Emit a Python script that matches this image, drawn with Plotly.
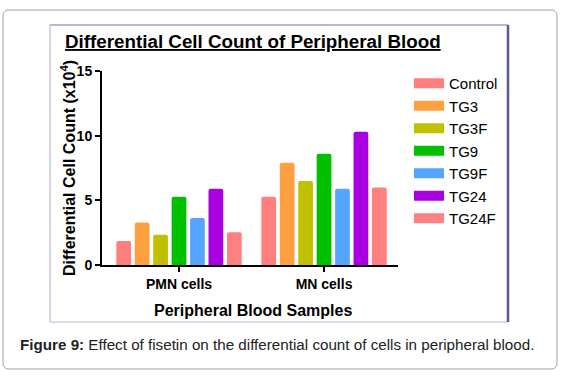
import plotly.graph_objects as go

W, H = 563, 376

categories = ["PMN cells", "MN cells"]
groups = ["Control", "TG3", "TG3F", "TG9", "TG9F", "TG24", "TG24F"]
control = [1.85, 5.28]
tg3 = [3.28, 7.9]
tg3f = [2.33, 6.49]
tg9 = [5.28, 8.6]
tg9f = [3.64, 5.9]
tg24 = [5.9, 10.3]
tg24f = [2.54, 6.0]
series = [control, tg3, tg3f, tg9, tg9f, tg24, tg24f]
colors = ["#FF7F7F", "#FFA040", "#C0C000", "#00C000", "#55A5FF", "#A800E0", "#FF8080"]
y_ticks = [0, 5, 10, 15]

FONT = "Liberation Sans, Arial, sans-serif"

def px(x):
    return x / W

def py(y):
    return 1 - y / H

fig = go.Figure()
for name, vals, col in zip(groups, series, colors):
    fig.add_trace(go.Bar(x=categories, y=vals, name=name, marker_color=col,
                         marker_line_width=0, showlegend=False))
for name, col in zip(groups, colors):
    fig.add_trace(go.Scatter(x=[None], y=[None], mode="lines", name=name,
                             line=dict(color=col, width=12), legendgroup=name))

fig.update_layout(
    width=W, height=H,
    margin=dict(l=0, r=0, t=0, b=0, autoexpand=False),
    paper_bgcolor="white", plot_bgcolor="white",
    barmode="group", bargap=0.11, bargroupgap=0.2, barcornerradius=2,
    font=dict(family=FONT, color="black"),
    xaxis=dict(domain=[px(102), px(398)], range=[-0.531, 1.51], automargin=False,
               showline=True, linecolor="black", linewidth=2,
               ticks="outside", ticklen=5, tickwidth=2, tickcolor="black",
               tickfont=dict(size=14, family=FONT, weight="bold"),
               showgrid=False, zeroline=False, anchor="y"),
    yaxis=dict(domain=[py(265), py(71)], range=[0, 15], automargin=False,
               tickvals=y_ticks, showline=True, linecolor="black", linewidth=2,
               ticks="outside", ticklen=5, tickwidth=2, tickcolor="black",
               tickfont=dict(size=14, family=FONT, weight="bold"),
               showgrid=False, zeroline=False, anchor="x"),
    legend=dict(x=px(409), y=py(67), xanchor="left", yanchor="top",
                font=dict(size=15, family=FONT), tracegroupgap=0,
                traceorder="grouped", bgcolor="rgba(0,0,0,0)", itemwidth=30),
    shapes=[
        dict(type="path", xref="paper", yref="paper",
             path=f"M {px(9)},{py(10)} L {px(551)},{py(10)} Q {px(557)},{py(10)} {px(557)},{py(16)} "
                  f"L {px(557)},{py(363)} Q {px(557)},{py(369)} {px(551)},{py(369)} "
                  f"L {px(9)},{py(369)} Q {px(3)},{py(369)} {px(3)},{py(363)} "
                  f"L {px(3)},{py(16)} Q {px(3)},{py(10)} {px(9)},{py(10)} Z",
             line=dict(color="#A0A0A0", width=1)),
        dict(type="line", xref="paper", yref="paper", x0=px(50), x1=px(508), y0=py(25), y1=py(25),
             line=dict(color="#B8B4D8", width=2)),
        dict(type="line", xref="paper", yref="paper", x0=px(50), x1=px(508), y0=py(322), y1=py(322),
             line=dict(color="#B8B4D8", width=1)),
        dict(type="line", xref="paper", yref="paper", x0=px(50), x1=px(50), y0=py(25), y1=py(322),
             line=dict(color="#C8C4E0", width=1.5)),
        dict(type="line", xref="paper", yref="paper", x0=px(508), x1=px(508), y0=py(25), y1=py(322),
             line=dict(color="#5A5A9A", width=2.5)),
    ],
    annotations=[
        dict(text="<u><b>Differential Cell Count of Peripheral Blood</b></u>", xref="paper", yref="paper",
             x=px(253), y=py(42), xanchor="center", yanchor="middle", showarrow=False,
             font=dict(size=18.8, family=FONT, color="black")),
        dict(text="<b>Differential Cell Count (x10<sup>4</sup>)</b>", xref="paper", yref="paper",
             x=px(68), y=py(168), xanchor="center", yanchor="middle", textangle=-90, showarrow=False,
             font=dict(size=16, family=FONT, color="black")),
        dict(text="<b>Peripheral Blood Samples</b>", xref="paper", yref="paper",
             x=px(253), y=py(310), xanchor="center", yanchor="middle", showarrow=False,
             font=dict(size=16, family=FONT, color="black")),
        dict(text="<b>Figure 9:</b> Effect of fisetin on the differential count of cells in peripheral blood.",
             xref="paper", yref="paper", x=px(18), y=py(344), xanchor="left", yanchor="middle",
             showarrow=False, font=dict(size=15.2, family=FONT, color="#222222")),
    ],
)

fig.write_html("out.html", config={"displayModeBar": False},
               post_script="document.body.style.margin='0';")
